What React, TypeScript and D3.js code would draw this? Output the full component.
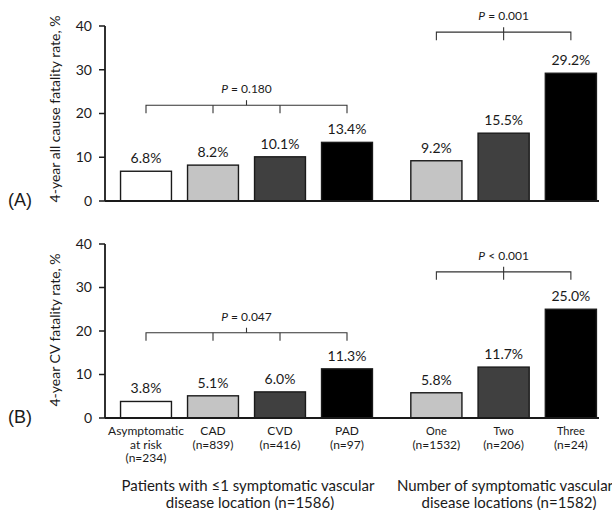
import React from "react";
import * as d3 from "d3";

// ---- data ----
const groupACategories = ["Asymptomatic at risk", "CAD", "CVD", "PAD"];
const groupALabels = [
  ["Asymptomatic", "at risk", "(n=234)"],
  ["CAD", "(n=839)"],
  ["CVD", "(n=416)"],
  ["PAD", "(n=97)"],
];
const groupBCategories = ["One", "Two", "Three"];
const groupBLabels = [
  ["One", "(n=1532)"],
  ["Two", "(n=206)"],
  ["Three", "(n=24)"],
];
const allCauseA = [6.8, 8.2, 10.1, 13.4];
const allCauseB = [9.2, 15.5, 29.2];
const cvA = [3.8, 5.1, 6.0, 11.3];
const cvB = [5.8, 11.7, 25.0];
const pTop = ["P = 0.180", "P = 0.001"];
const pBottom = ["P = 0.047", "P < 0.001"];
const yTicks = [0, 10, 20, 30, 40];
const fillsA = ["#ffffff", "#c4c4c4", "#404040", "#000000"];
const fillsB = ["#c4c4c4", "#404040", "#000000"];
const groupATitle = ["Patients with \u22641 symptomatic vascular", "disease location (n=1586)"];
const groupBTitle = ["Number of symptomatic vascular", "disease locations (n=1582)"];

const FONT = "Lato, 'Open Sans', sans-serif";

const xA = d3.scaleBand<string>().domain(groupACategories).range([112.5, 380.5]).paddingInner(0.24).paddingOuter(0.12);
const xB = d3.scaleBand<string>().domain(groupBCategories).range([402.75, 604.5]).paddingInner(0.24).paddingOuter(0.12);

type PanelProps = {
  y0: number;
  y1: number;
  valsA: number[];
  valsB: number[];
  pLabels: string[];
  bracketLevels: number[];
  yTitle: string;
  panelLabel: string;
  titleCenter: number;
};

function Panel({ y0, y1, valsA, valsB, pLabels, bracketLevels, yTitle, panelLabel, titleCenter }: PanelProps) {
  const y = d3.scaleLinear().domain([0, 40]).range([y0, y1]);
  const axisX = 105;
  const cA = groupACategories.map((c) => (xA(c) as number) + xA.bandwidth() / 2);
  const cB = groupBCategories.map((c) => (xB(c) as number) + xB.bandwidth() / 2);
  const bl = y(bracketLevels[0]);
  const br = y(bracketLevels[1]);
  const midA = (cA[0] + cA[cA.length - 1]) / 2;
  const midB = (cB[0] + cB[cB.length - 1]) / 2;
  const bracketPath = (centers: number[], lvl: number) =>
    d3.line()([[centers[0], lvl + 8], [centers[0], lvl], [centers[centers.length - 1], lvl], [centers[centers.length - 1], lvl + 8]]) as string;
  return (
    <g>
      {/* bars */}
      {valsA.map((v, i) => (
        <g key={"a" + i}>
          <rect x={xA(groupACategories[i])} y={y(v)} width={xA.bandwidth()} height={y(0) - y(v)} fill={fillsA[i]} stroke="#1a1a1a" strokeWidth={1.4} />
          <text x={cA[i]} y={y(v) - 8} textAnchor="middle" fontFamily={FONT} fontSize={14} fill="#1a1a1a">{v.toFixed(1)}%</text>
        </g>
      ))}
      {valsB.map((v, i) => (
        <g key={"b" + i}>
          <rect x={xB(groupBCategories[i])} y={y(v)} width={xB.bandwidth()} height={y(0) - y(v)} fill={fillsB[i]} stroke="#1a1a1a" strokeWidth={1.4} />
          <text x={cB[i]} y={y(v) - 8} textAnchor="middle" fontFamily={FONT} fontSize={14} fill="#1a1a1a">{v.toFixed(1)}%</text>
        </g>
      ))}
      {/* axes */}
      <line x1={axisX} x2={axisX} y1={y(40)} y2={y(0)} stroke="#1a1a1a" strokeWidth={1.8} />
      <line x1={axisX} x2={599} y1={y(0)} y2={y(0)} stroke="#1a1a1a" strokeWidth={1.8} />
      {yTicks.map((t) => (
        <g key={t}>
          <line x1={axisX - 6} x2={axisX} y1={y(t)} y2={y(t)} stroke="#1a1a1a" strokeWidth={1.5} />
          <text x={axisX - 13} y={y(t)} dy="0.35em" textAnchor="end" fontFamily={FONT} fontSize={14} fill="#1a1a1a">{t}</text>
        </g>
      ))}
      {/* y title */}
      <text transform={`translate(60,${titleCenter}) rotate(-90)`} textAnchor="middle" fontFamily={FONT} fontSize={14} fill="#1a1a1a">{yTitle}</text>
      <text x={8} y={y0 + 5} fontFamily="'Liberation Sans', Arial, sans-serif" fontSize={18} fill="#1a1a1a">{panelLabel}</text>
      {/* brackets */}
      <path d={bracketPath(cA, bl)} fill="none" stroke="#333" strokeWidth={1.1} />
      {cA.slice(1, -1).map((c, i) => (
        <line key={i} x1={c} x2={c} y1={bl} y2={bl + 8} stroke="#333" strokeWidth={1.1} />
      ))}
      <line x1={midA} x2={midA} y1={bl - 5} y2={bl} stroke="#333" strokeWidth={1.1} />
      <text x={midA} y={bl - 12} textAnchor="middle" fontFamily={FONT} fontSize={12} fill="#1a1a1a">
        <tspan fontStyle="italic">{pLabels[0].slice(0, 1)}</tspan>
        <tspan>{pLabels[0].slice(1)}</tspan>
      </text>
      <path d={bracketPath(cB, br)} fill="none" stroke="#333" strokeWidth={1.1} />
      <line x1={midB} x2={midB} y1={br - 5} y2={br + 8} stroke="#333" strokeWidth={1.1} />
      <text x={midB} y={br - 12} textAnchor="middle" fontFamily={FONT} fontSize={12} fill="#1a1a1a">
        <tspan fontStyle="italic">{pLabels[1].slice(0, 1)}</tspan>
        <tspan>{pLabels[1].slice(1)}</tspan>
      </text>
    </g>
  );
}

export default function App() {
  const cA = groupACategories.map((c) => (xA(c) as number) + xA.bandwidth() / 2);
  const cB = groupBCategories.map((c) => (xB(c) as number) + xB.bandwidth() / 2);
  return (
    <svg width={612} height={510} style={{ position: "absolute", left: 0, top: 0, background: "#fff" }}>
      <rect width={612} height={510} fill="#fff" />
      <Panel y0={201} y1={26} valsA={allCauseA} valsB={allCauseB} pLabels={pTop} bracketLevels={[21.9, 38.6]}
        yTitle="4-year all cause fatality rate, %" panelLabel="(A)" titleCenter={109} />
      <Panel y0={418} y1={244} valsA={cvA} valsB={cvB} pLabels={pBottom} bracketLevels={[19.6, 33.6]}
        yTitle="4-year CV fatality rate, %" panelLabel="(B)" titleCenter={330} />
      {groupALabels.map((lines, i) => (
        <text key={"la" + i} textAnchor="middle" fontFamily={FONT} fontSize={12} fill="#1a1a1a">
          {lines.map((l, j) => (
            <tspan key={j} x={cA[i]} y={435 + j * 13.5}>{l}</tspan>
          ))}
        </text>
      ))}
      {groupBLabels.map((lines, i) => (
        <text key={"lb" + i} textAnchor="middle" fontFamily={FONT} fill="#1a1a1a">
          {lines.map((l, j) => (
            <tspan key={j} x={cB[i]} y={435 + j * 13.5} fontSize={j === 0 ? 11 : 12}>{l}</tspan>
          ))}
        </text>
      ))}
      <text textAnchor="middle" fontFamily={FONT} fontSize={15} fill="#1a1a1a">
        <tspan x={248} y={491}>{groupATitle[0]}</tspan>
        <tspan x={250} y={508}>{groupATitle[1]}</tspan>
      </text>
      <text textAnchor="middle" fontFamily={FONT} fontSize={15} fill="#1a1a1a">
        <tspan x={505} y={491}>{groupBTitle[0]}</tspan>
        <tspan x={509} y={508}>{groupBTitle[1]}</tspan>
      </text>
    </svg>
  );
}
